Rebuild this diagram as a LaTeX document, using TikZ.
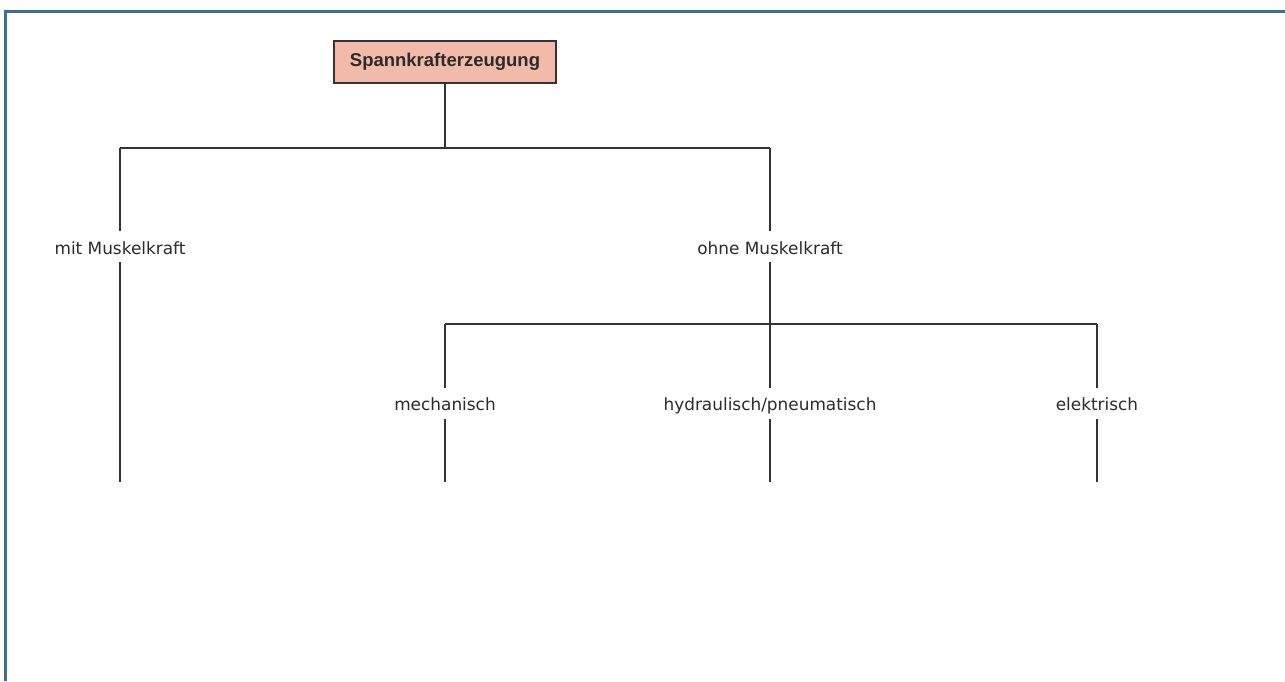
\documentclass[tikz,border=0pt]{standalone}
\usepackage{fontspec}
\newfontfamily\lblfamily{DejaVu Sans}
\newfontfamily\ttlfamily{Liberation Sans}
\definecolor{framecol}{HTML}{3D6E99}
\definecolor{linecol}{HTML}{333333}
\definecolor{txtcol}{HTML}{2B2B2B}
\definecolor{boxfill}{HTML}{F2BBA9}
\tikzset{
  lbl/.style={font=\lblfamily\fontsize{16.9}{20}\selectfont, text=txtcol,
    text height=14.5pt, text depth=0pt, inner ysep=8pt, inner xsep=0pt, anchor=base},
  titlebox/.style={draw=linecol, line width=1.2pt, fill=boxfill,
    minimum width=222pt, minimum height=42pt, inner sep=0pt,
    font=\ttlfamily\bfseries\fontsize{18.5}{22}\selectfont, text=txtcol},
  conn/.style={draw=linecol, line width=1.2pt},
}
\begin{document}
\begin{tikzpicture}[x=1pt,y=-1pt]
\useasboundingbox (0,0) rectangle (1285,681);
% frame
\draw[framecol, line width=3pt, line join=miter] (5.3,681) -- (5.3,11) -- (1285,11);
% nodes
\node[titlebox] (root) at (445,62) {Spannkrafterzeugung};
\node[lbl] (mit) at (120,254) {mit Muskelkraft};
\node[lbl] (ohne) at (770,254) {ohne Muskelkraft};
\node[lbl] (mech) at (445,410.7) {mechanisch};
\node[lbl] (hyd) at (770,410.7) {hydraulisch/pneumatisch};
\node[lbl] (elek) at (1097,410.7) {elektrisch};
% junctions and free ends
\coordinate (j1) at (445,148);
\coordinate (j1l) at (120,148);
\coordinate (j1r) at (770,148);
\coordinate (j2l) at (445,324);
\coordinate (j2r) at (1097,324);
\coordinate (emit) at (120,482);
\coordinate (emech) at (445,482);
\coordinate (ehyd) at (770,482);
\coordinate (eelek) at (1097,482);
% connectors
\draw[conn] (root.south) -- (j1);
\draw[conn] (j1l) -- (j1r);
\draw[conn] (j1l) -- (mit.north);
\draw[conn] (j1r) -- (ohne.north);
\draw[conn] (mit.south) -- (emit);
\draw[conn] (ohne.south) -- (hyd.north);
\draw[conn] (j2l) -- (j2r);
\draw[conn] (j2l) -- (mech.north);
\draw[conn] (j2r) -- (elek.north);
\draw[conn] (mech.south) -- (emech);
\draw[conn] (hyd.south) -- (ehyd);
\draw[conn] (elek.south) -- (eelek);
\end{tikzpicture}
\end{document}
